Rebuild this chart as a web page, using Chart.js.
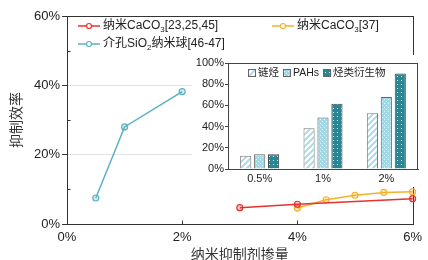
<!DOCTYPE html>
<html>
<head>
<meta charset="utf-8">
<script src="https://cdn.jsdelivr.net/npm/chart.js@4.4.0/dist/chart.umd.min.js"></script>
<style>
  body { margin: 0; background: #fff; }
  #wrap { position: relative; width: 428px; height: 260px; }
  #main { position: absolute; left: 0; top: 0; }
  #inset { position: absolute; left: 192px; top: 55px; background: #fff; }
</style>
</head>
<body>
<div id="wrap">
  <canvas id="main" width="428" height="260"></canvas>
  <canvas id="inset" width="227" height="132"></canvas>
</div>
<script>
// main chart: x = dosage (%), y = inhibition efficiency (%)
const redX = [3, 4, 6];
const redY = [4.7, 5.7, 7.3];
const yellowX = [4, 4.5, 5, 5.5, 6];
const yellowY = [4.6, 7.0, 8.3, 9.1, 9.3];
const cyanX = [0.5, 1, 2];
const cyanY = [7.5, 28, 38.2];
const seriesNames = ['纳米CaCO_3[23,25,45]', '介孔SiO_2纳米球[46-47]', '纳米CaCO_3[37]'];
const xTicks = [0, 2, 4, 6];
const yTicks = [0, 20, 40, 60];
const yMinor = [10, 30, 50];

// inset bar chart
const insetCats = ['0.5%', '1%', '2%'];
const chainAlkane = [12.5, 38.5, 52.5];
const pahs = [14, 48.5, 68];
const derivs = [14, 61.5, 90];
const insetNames = ['链烃', 'PAHs', '烃类衍生物'];
const insetTicks = [0, 20, 40, 60, 80, 100];

const FONT = "'Liberation Sans', Arial, 'Noto Sans CJK SC', sans-serif";
const RED = '#e8322b';
const YELLOW = '#f6b12a';
const CYAN = '#5ab1c2';
const AXIS = '#333';

const toPts = (xs, ys) => xs.map((v, i) => ({ x: v, y: ys[i] }));

// text with "_3" style subscripts
function drawRich(ctx, str, x, y, size) {
  const parts = str.split(/_(\d)/);
  parts.forEach((p, i) => {
    if (i % 2) {
      ctx.font = Math.round(size * 0.7) + 'px ' + FONT;
      ctx.fillText(p, x, y + size * 0.3);
    } else {
      ctx.font = size + 'px ' + FONT;
      ctx.fillText(p, x, y);
    }
    x += ctx.measureText(p).width;
  });
}

function makePattern(size, draw) {
  const c = document.createElement('canvas');
  c.width = c.height = size;
  const g = c.getContext('2d');
  draw(g, size);
  return g.createPattern(c, 'repeat');
}

const stripePat = makePattern(6, (g, s) => {
  g.fillStyle = '#fff';
  g.fillRect(0, 0, s, s);
  g.strokeStyle = '#a3d9e5';
  g.lineWidth = 1.8;
  g.beginPath();
  g.moveTo(0, s); g.lineTo(s, 0);
  g.moveTo(-2, 2); g.lineTo(2, -2);
  g.moveTo(s - 2, s + 2); g.lineTo(s + 2, s - 2);
  g.stroke();
});
const dotPat = makePattern(4, (g, s) => {
  g.fillStyle = '#a2d7e3';
  g.fillRect(0, 0, s, s);
  g.fillStyle = '#e8f6f9';
  g.fillRect(0, 0, 1, 1);
  g.fillRect(2, 2, 1, 1);
});
const tealPat = makePattern(4, (g, s) => {
  g.fillStyle = '#2c8593';
  g.fillRect(0, 0, s, s);
  g.fillStyle = '#cfe9ee';
  g.fillRect(1, 1, 1, 1);
});

const mainDecor = {
  id: 'mainDecor',
  beforeDatasetsDraw(chart) {
    const { ctx, chartArea: a, scales: { x, y } } = chart;
    ctx.save();
    ctx.strokeStyle = AXIS;
    ctx.lineWidth = 1;
    const L = Math.round(a.left) + 0.5, R = Math.round(a.right) + 0.5;
    const T = Math.round(a.top) + 0.5, B = Math.round(a.bottom) + 0.5;
    ctx.strokeRect(L, T, R - L, B - T);
    ctx.beginPath();
    xTicks.forEach(v => {
      const px = Math.round(x.getPixelForValue(v)) + 0.5;
      ctx.moveTo(px, B); ctx.lineTo(px, B - 4);
    });
    yMinor.forEach(v => {
      const py = Math.round(y.getPixelForValue(v)) + 0.5;
      ctx.moveTo(L, py); ctx.lineTo(L + 3, py);
    });
    ctx.stroke();
    ctx.restore();
  },
  afterDraw(chart) {
    const ctx = chart.ctx;
    const spots = [[78, 26], [78, 44], [272, 26]];
    const colors = [RED, CYAN, YELLOW];
    ctx.save();
    spots.forEach(([sx, sy], i) => {
      ctx.strokeStyle = colors[i];
      ctx.lineWidth = 1.5;
      ctx.beginPath(); ctx.moveTo(sx, sy); ctx.lineTo(sx + 22, sy); ctx.stroke();
      ctx.beginPath(); ctx.arc(sx + 11, sy, 2.5, 0, Math.PI * 2);
      ctx.fillStyle = '#fff'; ctx.fill();
      ctx.lineWidth = 1.2; ctx.stroke();
      ctx.fillStyle = '#222';
      ctx.textBaseline = 'middle';
      drawRich(ctx, seriesNames[i], sx + 25, sy, 12);
    });
    ctx.restore();
  }
};

const lineSet = (label, data, color) => ({
  label, data,
  borderColor: color,
  backgroundColor: color,
  borderWidth: 1.5,
  pointRadius: 3,
  pointBorderWidth: 1.2,
  pointBackgroundColor: color + '40',
  pointBorderColor: color,
  tension: 0,
  clip: false
});

new Chart(document.getElementById('main'), {
  type: 'line',
  data: {
    datasets: [
      lineSet(seriesNames[0], toPts(redX, redY), RED),
      lineSet(seriesNames[2], toPts(yellowX, yellowY), YELLOW),
      lineSet(seriesNames[1], toPts(cyanX, cyanY), CYAN)
    ]
  },
  options: {
    responsive: false,
    animation: false,
    devicePixelRatio: 1,
    layout: { padding: { left: 0, right: 9, top: 16, bottom: 0 } },
    plugins: { legend: { display: false }, tooltip: { enabled: false } },
    scales: {
      x: {
        type: 'linear', min: 0, max: 6,
        afterBuildTicks: s => { s.ticks = xTicks.map(v => ({ value: v })); },
        grid: { display: false, drawTicks: false },
        border: { color: AXIS },
        ticks: { callback: v => v + '%', font: { size: 13, family: FONT }, color: '#222', padding: 6, maxRotation: 0 },
        title: { display: true, text: '纳米抑制剂掺量', font: { size: 14, family: FONT }, color: '#333', padding: { top: 0, bottom: -4 } },
        afterFit: s => { s.height = 36; }
      },
      y: {
        min: 0, max: 60,
        afterBuildTicks: s => { s.ticks = yTicks.map(v => ({ value: v })); },
        grid: {
          color: c => (c.tick && (c.tick.value === 20 || c.tick.value === 40)) ? '#e2e2e2' : 'rgba(0,0,0,0)',
          tickColor: AXIS, tickLength: 5
        },
        border: { color: AXIS },
        ticks: { callback: v => v + '%', font: { size: 13, family: FONT }, color: '#222', padding: 2 },
        title: { display: true, text: '抑制效率', font: { size: 14, family: FONT }, color: '#333', padding: { top: 9, bottom: 0 } },
        afterFit: s => { s.width = 67; }
      }
    }
  },
  plugins: [mainDecor]
});

const insetDecor = {
  id: 'insetDecor',
  afterDraw(chart) {
    const { ctx, chartArea: a } = chart;
    ctx.save();
    ctx.strokeStyle = '#444';
    ctx.lineWidth = 1;
    const L = Math.round(a.left) + 0.5, R = Math.round(a.right) - 0.5;
    const T = Math.round(a.top) + 0.5, B = Math.round(a.bottom) + 0.5;
    ctx.strokeRect(L, T, R - L, B - T);
    // legend
    ctx.font = '10.5px ' + FONT;
    ctx.textBaseline = 'middle';
    let lx = 56;
    const ly = 18;
    chart.data.datasets.forEach(ds => {
      ctx.fillStyle = ds.backgroundColor;
      ctx.fillRect(lx, ly - 4, 8, 8);
      ctx.strokeStyle = '#666';
      ctx.strokeRect(lx + 0.5, ly - 3.5, 7, 7);
      ctx.fillStyle = '#222';
      ctx.fillText(ds.label, lx + 10, ly + 0.5);
      lx += 10 + ctx.measureText(ds.label).width + 4;
    });
    ctx.restore();
  }
};

const barSet = (label, data, fill, edge) => ({
  label, data,
  backgroundColor: fill,
  borderColor: edge,
  borderWidth: 1,
  categoryPercentage: 0.66,
  barPercentage: 0.8
});

new Chart(document.getElementById('inset'), {
  type: 'bar',
  data: {
    labels: insetCats,
    datasets: [
      barSet(insetNames[0], chainAlkane, stripePat, '#777'),
      barSet(insetNames[1], pahs, dotPat, '#666'),
      barSet(insetNames[2], derivs, tealPat, '#444')
    ]
  },
  options: {
    responsive: false,
    animation: false,
    devicePixelRatio: 1,
    layout: { padding: { left: 0, right: 1, top: 8, bottom: 0 } },
    plugins: { legend: { display: false }, tooltip: { enabled: false } },
    scales: {
      x: {
        grid: { display: false, drawTicks: false },
        border: { color: '#444' },
        ticks: { font: { size: 11, family: FONT }, color: '#222', padding: 3 },
        afterFit: s => { s.height = 18; }
      },
      y: {
        min: 0, max: 100,
        afterBuildTicks: s => { s.ticks = insetTicks.map(v => ({ value: v })); },
        grid: { drawOnChartArea: false, tickLength: 3, tickColor: '#444' },
        border: { color: '#444' },
        ticks: { callback: v => v + '%', font: { size: 11, family: FONT }, color: '#222', padding: 1 },
        afterFit: s => { s.width = 36; }
      }
    }
  },
  plugins: [insetDecor]
});
</script>
</body>
</html>
